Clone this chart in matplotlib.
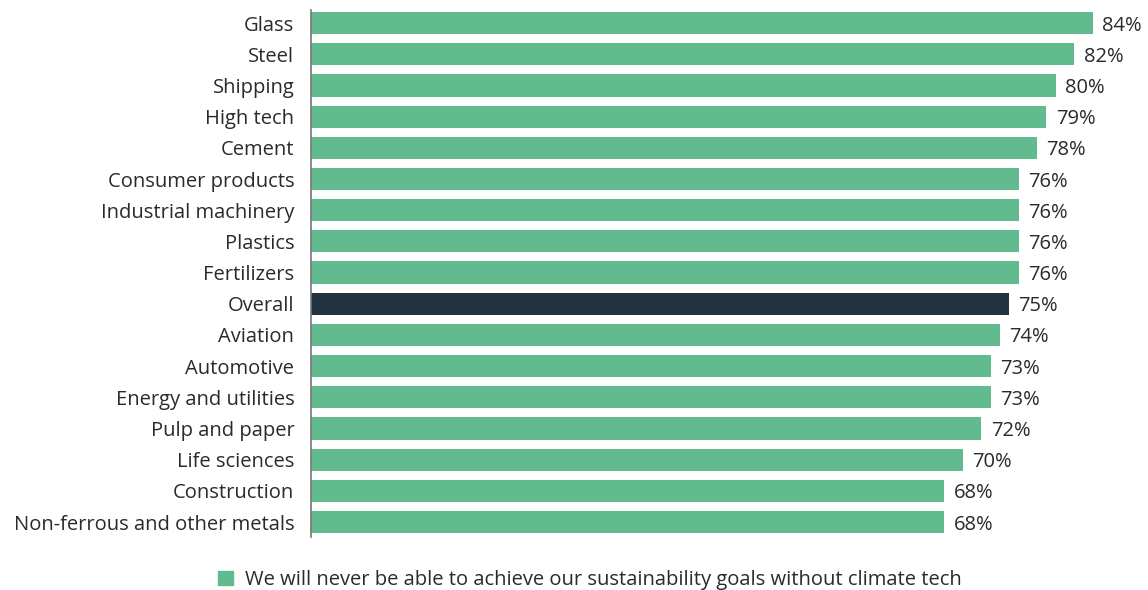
import matplotlib.pyplot as plt
from matplotlib.patches import Patch

plt.rcParams['font.family'] = ['Open Sans', 'DejaVu Sans']

sectors = ["Glass", "Steel", "Shipping", "High tech", "Cement", "Consumer products",
           "Industrial machinery", "Plastics", "Fertilizers", "Overall", "Aviation",
           "Automotive", "Energy and utilities", "Pulp and paper", "Life sciences",
           "Construction", "Non-ferrous and other metals"]
values = [84, 82, 80, 79, 78, 76, 76, 76, 76, 75, 74, 73, 73, 72, 70, 68, 68]
legend_label = "We will never be able to achieve our sustainability goals without climate tech"

green = "#62bb8e"
dark = "#22333f"
text_col = "#2a2a2a"
colors = [dark if s == "Overall" else green for s in sectors]

W, H = 1148, 590
fig = plt.figure(figsize=(W / 100, H / 100), dpi=100)
ax = fig.add_axes([311 / W, (H - 537) / H, (W - 311) / W, 527 / H])

y = list(range(len(sectors)))
ax.barh(y, values, height=0.71, color=colors)
ax.set_xlim(0, (W - 311) / 9.31)
ax.set_ylim(16.48, -0.42)

for yi, v in zip(y, values):
    ax.text(v + 1.0, yi + 0.08, f"{v}%", va="center", ha="left", fontsize=14.5, color=text_col)

ax.set_yticks(y)
ax.set_yticklabels(sectors, fontsize=14.5, color=text_col)
ax.tick_params(axis="y", length=0, pad=12)
ax.set_xticks([])
for side in ["top", "right", "bottom"]:
    ax.spines[side].set_visible(False)
ax.spines["left"].set_color("#777777")
ax.spines["left"].set_linewidth(1.2)

fig.legend(handles=[Patch(color=green, label=legend_label)], loc="center",
           bbox_to_anchor=(590 / W, 1 - 580 / H), frameon=False, fontsize=14.5,
           handlelength=0.75, handleheight=0.75, handletextpad=0.6,
           labelcolor=text_col)

fig.savefig("out.png", dpi=100)
